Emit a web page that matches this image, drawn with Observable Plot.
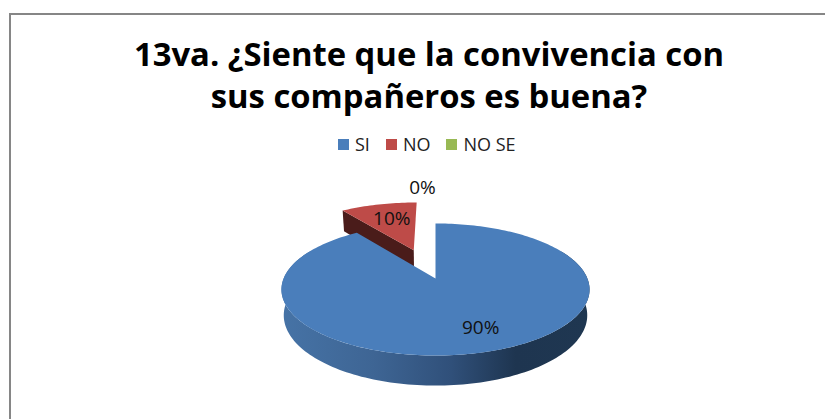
<!DOCTYPE html>
<html lang="es">
<head>
<meta charset="utf-8">
<script src="https://cdn.jsdelivr.net/npm/d3@7"></script>
<script src="https://cdn.jsdelivr.net/npm/@observablehq/plot@0.6"></script>
<style>
  html, body { margin: 0; padding: 0; background: #fff; width: 825px; height: 419px; overflow: hidden; }
  #frame { position: absolute; left: 9px; top: 13px; right: 0; bottom: 0; border-left: 2px solid #868686; border-top: 2px solid #868686; }
  h1 { position: absolute; left: 0; top: 33px; width: 858px; margin: 0; text-align: center; font: 700 32.8px/41.5px "Open Sans", sans-serif; color: #000; }
  #legend { position: absolute; left: 338px; top: 132px; }
  #legend > div { margin: 0 !important; min-height: 0 !important; font: 18px "Open Sans", sans-serif !important; color: #222; white-space: nowrap; }
  #legend span { margin-right: 16px; }
  #legend svg { margin-right: 6px !important; }
  #chart { position: absolute; left: 0; top: 0; }
  #chart svg { display: block; }
</style>
</head>
<body>
<div id="frame"></div>
<div id="chart"></div>
<h1>13va. ¿Siente que la convivencia con<br>sus compañeros es buena?</h1>
<div id="legend"></div>
<script>
const categories = ["SI", "NO", "NO SE"];
const values = [90, 10, 0];
const colors = ["#4a7ebb", "#be4b48", "#98b954"];
const labels = ["90%", "10%", "0%"];

// Pie geometry, in units of the pie radius
const exploded = [0, 0.5, 0.5];
const perspective = 1 / 6;
const thickness = 0.39;
const taper = 0.015;
const labelRadius = [0.72, 0.65, 1.35];
const labelDx = [7, 2, -13];

const total = d3.sum(values);
const ends = d3.cumsum(values).map(v => v / total * 2 * Math.PI);
const slices = categories.map((name, i) => {
  const a0 = i ? ends[i - 1] : 0, a1 = ends[i];
  return {name, i, a0, a1, mid: (a0 + a1) / 2, e: exploded[i]};
});

// Tilted-disc projection: far points shrink, near points grow
function project(px, py, drop = 0) {
  const s = 1 / (1 + perspective * py);
  return {x: px * s * (1 - taper * drop), y: py * s - drop * thickness * s};
}
function rim(slice, a, r = 1, drop = 0) {
  return project(
    slice.e * Math.sin(slice.mid) + r * Math.sin(a),
    slice.e * Math.cos(slice.mid) + r * Math.cos(a),
    drop
  );
}
function centre(slice, drop = 0) {
  return rim(slice, 0, 0, drop);
}
function topFace(slice) {
  const n = Math.max(2, Math.ceil((slice.a1 - slice.a0) * 40));
  const arc = d3.range(n + 1).map(k => rim(slice, slice.a0 + (slice.a1 - slice.a0) * k / n));
  return [centre(slice), ...arc];
}
function cutWall(slice, a) {
  return [centre(slice), rim(slice, a), rim(slice, a, 1, 1), centre(slice, 1)];
}
function outerWall(slice, from, to) {
  const n = 160;
  const angles = d3.range(n + 1).map(k => from + (to - from) * k / n);
  return [...angles.map(a => rim(slice, a)), ...angles.reverse().map(a => rim(slice, a, 1, 1))];
}

const [si, no] = slices;
const face = (pts, fill) => Plot.line(pts, {x: "x", y: "y", fill, stroke: "none", curve: "linear"});

const gradient = () => {
  const svg = d3.create("svg:defs");
  const g = svg.append("linearGradient").attr("id", "wall");
  [[0, "#4673a6"], [0.3, "#3e6594"], [0.55, "#30507a"], [0.76, "#1e3550"], [1, "#1f3751"]]
    .forEach(([o, c]) => g.append("stop").attr("offset", o).attr("stop-color", c));
  return svg.node();
};

const plot = Plot.plot({
  width: 825,
  height: 419,
  margin: 0,
  x: {axis: null, domain: [-1, 1], range: [283.1, 586.9]},
  y: {axis: null, domain: [1, -1], range: [213.8, 342.2]},
  style: {background: "transparent"},
  marks: [
    gradient,
    face(cutWall(no, no.a0), "#4a1c1a"),
    face(topFace(no), colors[1]),
    face(outerWall(si, Math.PI * 0.35, Math.PI * 1.65), "url(#wall)"),
    face(topFace(si), colors[0]),
    ...slices.map((s, i) => Plot.text([rim(s, s.mid, labelRadius[i])], {
      x: "x", y: "y", text: () => labels[i], dx: labelDx[i],
      fontSize: 19, fontFamily: "Open Sans", fill: "#111"
    }))
  ]
});
document.getElementById("chart").append(plot);

const legend = Plot.legend({
  color: {type: "ordinal", domain: categories, range: colors},
  swatchSize: 11
});
document.getElementById("legend").append(legend);
</script>
</body>
</html>
